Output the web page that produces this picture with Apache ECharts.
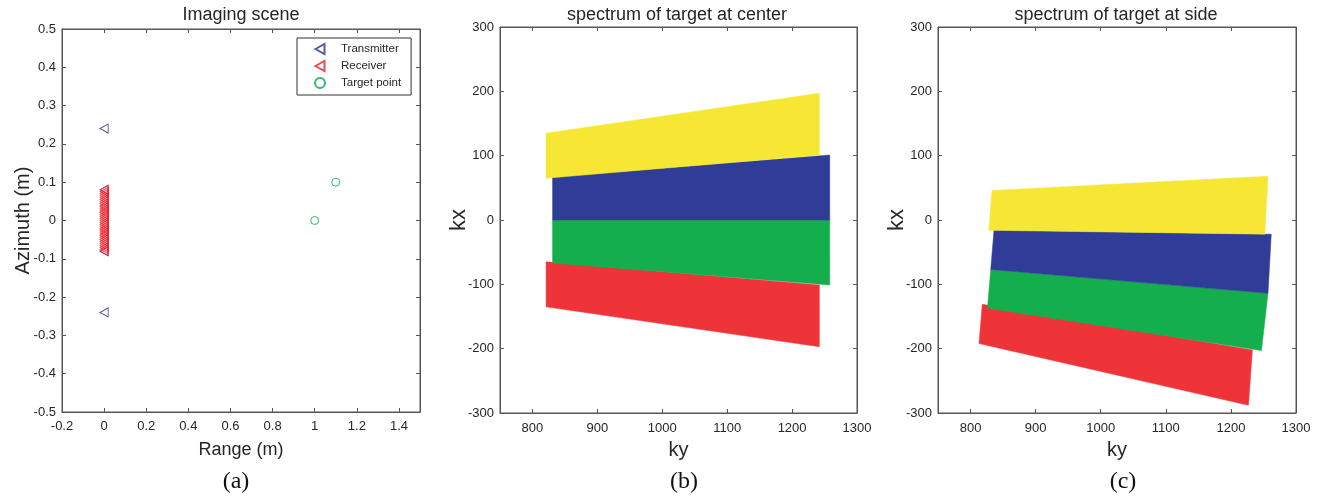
<!DOCTYPE html>
<html>
<head>
<meta charset="utf-8">
<script src="https://cdn.jsdelivr.net/npm/echarts@6/dist/echarts.min.js"></script>
<style>
  html, body { margin: 0; padding: 0; background: #fff; }
  #chart { width: 1330px; height: 498px; }
</style>
</head>
<body>
<div id="chart"></div>
<script>
// panel (a): imaging scene, [range, azimuth] in metres
const transmitters = [[0, 0.24], [0, 0.08], [0, -0.08], [0, -0.24]];
const receiverAzimuth = [
  -0.08, -0.075, -0.07, -0.065, -0.06, -0.055, -0.05, -0.045, -0.04, -0.035, -0.03,
  -0.025, -0.02, -0.015, -0.01, -0.005, 0, 0.005, 0.01, 0.015, 0.02, 0.025, 0.03,
  0.035, 0.04, 0.045, 0.05, 0.055, 0.06, 0.065, 0.07, 0.075, 0.08
];
const targets = [[1, 0], [1.1, 0.1]];

// panels (b)/(c): spectrum bands, corners [ky, kx] (TL, TR, BR, BL)
const centerYellow = [[821, 135], [1242, 197], [1242, 101], [821, 65]];
const centerBlue   = [[831, 67], [1258, 101], [1258, 0], [831, 0]];
const centerGreen  = [[831, 0], [1258, 0], [1258, -101], [831, -67]];
const centerRed    = [[821, -65], [1242, -101], [1242, -197], [821, -135]];

const sideYellow = [[833, 46], [1257, 68], [1252, -22], [828, -16]];
const sideBlue   = [[836, -16], [1262, -22], [1257, -114], [831, -77]];
const sideGreen  = [[831, -77], [1257, -114], [1247, -203], [826, -137]];
const sideRed    = [[818, -131], [1233, -202], [1227, -288], [813, -192]];

const kyTicks = [800, 900, 1000, 1100, 1200, 1300];

const bandColors = { yellow: '#f6e734', blue: '#303d98', green: '#15ae4c', red: '#ee3438' };

const axisColor = '#555';
const labelColor = '#262626';
const sans = '"Liberation Sans", Arial, sans-serif';

const myChart = echarts.init(document.getElementById('chart'));

function bandSeries(corners, color, gridIdx) {
  return {
    type: 'custom',
    xAxisIndex: gridIdx * 2,
    yAxisIndex: gridIdx * 2,
    silent: true,
    encode: { x: [0, 2, 4, 6], y: [1, 3, 5, 7] },
    data: [corners.flat()],
    renderItem: (params, api) => {
      const pts = [];
      for (let i = 0; i < 4; i++) {
        pts.push(api.coord([api.value(i * 2), api.value(i * 2 + 1)]));
      }
      return {
        type: 'polygon',
        shape: { points: pts },
        style: { fill: color, stroke: color, lineWidth: 0.5 }
      };
    }
  };
}

function mainX(idx, opts) {
  return Object.assign({
    gridIndex: idx,
    type: 'value',
    position: 'bottom',
    splitLine: { show: false },
    axisLine: { show: true, onZero: false, lineStyle: { color: axisColor } },
    axisTick: { inside: true, length: 4, lineStyle: { color: axisColor } },
    axisLabel: { color: labelColor, fontSize: 13, fontFamily: sans, margin: 8 },
    nameLocation: 'middle',
    nameMoveOverlap: false,
    nameTextStyle: { color: labelColor, fontSize: 18, fontFamily: sans }
  }, opts);
}

function mainY(idx, opts) {
  return Object.assign({
    gridIndex: idx,
    type: 'value',
    position: 'left',
    splitLine: { show: false },
    axisLine: { show: true, onZero: false, lineStyle: { color: axisColor } },
    axisTick: { inside: true, length: 4, lineStyle: { color: axisColor } },
    axisLabel: { color: labelColor, fontSize: 13, fontFamily: sans, margin: 6 },
    nameLocation: 'middle',
    nameRotate: 90,
    nameMoveOverlap: false,
    nameTextStyle: { color: labelColor, fontSize: 20, fontFamily: sans }
  }, opts);
}

// box edges with inner ticks (top / right)
function boxAxis(base, pos) {
  const a = Object.assign({}, base);
  a.position = pos;
  a.name = '';
  a.axisLabel = Object.assign({}, base.axisLabel, { show: false });
  return a;
}

const xA = mainX(0, { min: -0.2, max: 1.5, interval: 0.2, name: 'Range (m)', nameGap: 29,
  axisLabel: { color: labelColor, fontSize: 13, fontFamily: sans, margin: 8, showMaxLabel: false } });
const yA = mainY(0, { min: -0.5, max: 0.5, interval: 0.1, name: 'Azimuth (m)', nameGap: 29 });

const kyAxisLabel = { color: labelColor, fontSize: 13, fontFamily: sans, margin: 9,
  customValues: kyTicks, formatter: v => String(v) };
const kyAxisTick = { inside: true, length: 4, lineStyle: { color: axisColor }, customValues: kyTicks };

const xB = mainX(1, { min: 750, max: 1300, name: 'ky', nameGap: 27, axisLabel: kyAxisLabel, axisTick: kyAxisTick,
  nameTextStyle: { color: labelColor, fontSize: 20, fontFamily: sans } });
const yB = mainY(1, { min: -300, max: 300, interval: 100, name: 'kx', nameGap: 30,
  nameTextStyle: { color: labelColor, fontSize: 22, fontFamily: sans } });
const xC = mainX(2, { min: 750, max: 1300, name: 'ky', nameGap: 27, axisLabel: kyAxisLabel, axisTick: kyAxisTick,
  nameTextStyle: { color: labelColor, fontSize: 20, fontFamily: sans } });
const yC = mainY(2, { min: -300, max: 300, interval: 100, name: 'kx', nameGap: 30,
  nameTextStyle: { color: labelColor, fontSize: 22, fontFamily: sans } });

const triLeft = 'path://M0,5 L9,0 L9,10 Z';
const titleStyle = { fontSize: 18, fontWeight: 'normal', color: labelColor, fontFamily: sans };
const capStyle = { fontSize: 24, fontWeight: 'normal', color: '#111',
  fontFamily: '"Liberation Serif", "Times New Roman", serif' };

myChart.setOption({
  animation: false,
  backgroundColor: '#fff',
  title: [
    { text: 'Imaging scene', left: 236, top: 1, textAlign: 'center', textStyle: titleStyle },
    { text: 'spectrum of target at center', left: 672, top: 1, textAlign: 'center', textStyle: titleStyle },
    { text: 'spectrum of target at side', left: 1111, top: 1, textAlign: 'center', textStyle: titleStyle },
    { text: '(a)', left: 231, top: 465, textAlign: 'center', textStyle: capStyle },
    { text: '(b)', left: 679, top: 465, textAlign: 'center', textStyle: capStyle },
    { text: '(c)', left: 1118, top: 465, textAlign: 'center', textStyle: capStyle }
  ],
  legend: {
    data: ['Transmitter', 'Receiver', 'Target point'],
    orient: 'vertical',
    left: 297,
    top: 38,
    padding: [5, 10, 6, 17],
    itemWidth: 10,
    itemHeight: 10,
    itemGap: 5,
    borderColor: '#333',
    borderWidth: 1,
    backgroundColor: '#fff',
    textStyle: { fontSize: 11.5, color: labelColor, fontFamily: sans, padding: [0, 0, 0, 11] }
  },
  grid: [
    { left: 62, top: 29, width: 358, height: 383, show: true, borderColor: axisColor, borderWidth: 1 },
    { left: 500, top: 27, width: 357, height: 386, show: true, borderColor: axisColor, borderWidth: 1 },
    { left: 938, top: 27, width: 358, height: 386, show: true, borderColor: axisColor, borderWidth: 1 }
  ],
  xAxis: [xA, boxAxis(xA, 'top'), xB, boxAxis(xB, 'top'), xC, boxAxis(xC, 'top')],
  yAxis: [yA, boxAxis(yA, 'right'), yB, boxAxis(yB, 'right'), yC, boxAxis(yC, 'right')],
  series: [
    {
      name: 'Transmitter', type: 'scatter', xAxisIndex: 0, yAxisIndex: 0,
      symbol: triLeft, symbolSize: [8, 9],
      itemStyle: { color: 'rgba(0,0,0,0)', borderColor: '#2e3192', borderWidth: 1 },
      data: transmitters
    },
    {
      name: 'Receiver', type: 'scatter', xAxisIndex: 0, yAxisIndex: 0,
      symbol: triLeft, symbolSize: [8, 9],
      itemStyle: { color: 'rgba(0,0,0,0)', borderColor: '#ed1c24', borderWidth: 1 },
      data: receiverAzimuth.map(a => [0, a])
    },
    {
      name: 'Target point', type: 'scatter', xAxisIndex: 0, yAxisIndex: 0,
      symbol: 'circle', symbolSize: 8,
      itemStyle: { color: 'rgba(0,0,0,0)', borderColor: '#00a651', borderWidth: 1 },
      data: targets
    },
    bandSeries(centerRed, bandColors.red, 1),
    bandSeries(centerGreen, bandColors.green, 1),
    bandSeries(centerBlue, bandColors.blue, 1),
    bandSeries(centerYellow, bandColors.yellow, 1),
    bandSeries(sideRed, bandColors.red, 2),
    bandSeries(sideGreen, bandColors.green, 2),
    bandSeries(sideBlue, bandColors.blue, 2),
    bandSeries(sideYellow, bandColors.yellow, 2)
  ]
});
</script>
</body>
</html>
